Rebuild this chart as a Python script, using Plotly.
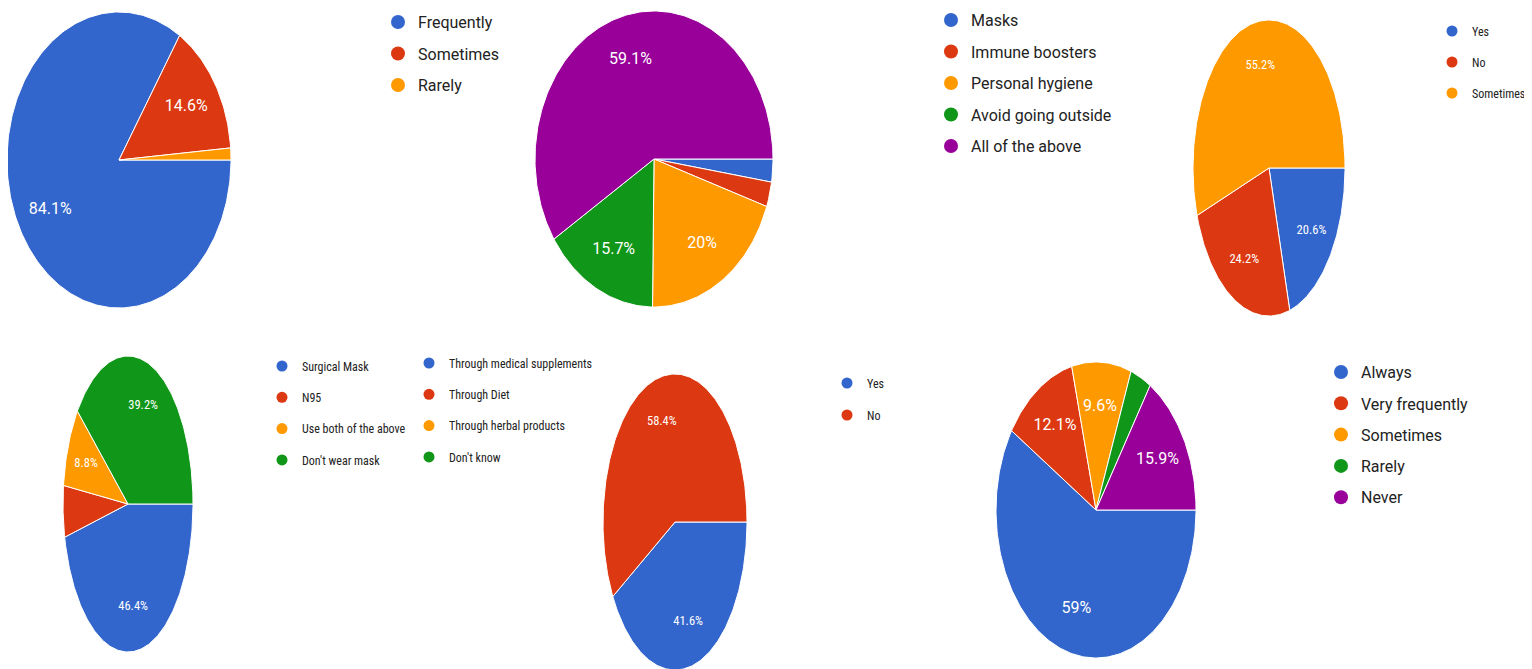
import math
import plotly.graph_objects as go

# ---------------- data ----------------
COLORS = ["#3366CC", "#DC3912", "#FF9900", "#109618", "#990099"]

p1_labels = ["Frequently", "Sometimes", "Rarely"]
p1_values = [84.1, 14.6, 1.3]

p2_labels = ["Masks", "Immune boosters", "Personal hygiene", "Avoid going outside", "All of the above"]
p2_values = [2.5, 2.7, 20.0, 15.7, 59.1]

p3_labels = ["Yes", "No", "Sometimes"]
p3_values = [20.6, 24.2, 55.2]

p4_labels = ["Surgical Mask", "N95", "Use both of the above", "Don't wear mask"]
p4_values = [46.4, 5.6, 8.8, 39.2]

extra_labels = ["Through medical supplements", "Through Diet", "Through herbal products", "Don't know"]

p5_labels = ["Yes", "No"]
p5_values = [41.6, 58.4]

p6_labels = ["Always", "Very frequently", "Sometimes", "Rarely", "Never"]
p6_values = [59.0, 12.1, 9.6, 3.4, 15.9]

# ---------------- layout helpers ----------------
SCREEN_W, SCREEN_H = 1532, 669
OFF = 8  # default page body margin
W, H = SCREEN_W - OFF, SCREEN_H - OFF
BIG = "Roboto, Arial, sans-serif"
NARROW = "Liberation Sans Narrow, Roboto Condensed, Roboto, sans-serif"

# positions below are in screen pixels of the target image
pies = [
    dict(values=p1_values, labels=p1_labels, cx=119, cy=160, rx=112, ry=148, fs=16, fam=BIG),
    dict(values=p2_values, labels=p2_labels, cx=654, cy=159, rx=119, ry=148, fs=16, fam=BIG),
    dict(values=p3_values, labels=p3_labels, cx=1269, cy=168, rx=76, ry=148, fs=12.5, fam=NARROW),
    dict(values=p4_values, labels=p4_labels, cx=128, cy=504, rx=65, ry=148, fs=12.5, fam=NARROW),
    dict(values=p5_values, labels=p5_labels, cx=675, cy=522, rx=72, ry=148, fs=12.5, fam=NARROW),
    dict(values=p6_values, labels=p6_labels, cx=1096, cy=510, rx=100, ry=148, fs=16, fam=BIG),
]

legends = [
    dict(labels=p1_labels, tx=417, y1=22, sp=31.5, fs=16, fam=BIG, ms=14),
    dict(labels=p2_labels, tx=970, y1=20, sp=31.5, fs=16, fam=BIG, ms=14),
    dict(labels=p3_labels, tx=1471, y1=31, sp=31, fs=12, fam=NARROW, ms=11),
    dict(labels=p4_labels, tx=301, y1=366, sp=31.3, fs=12, fam=NARROW, ms=11),
    dict(labels=extra_labels, tx=448, y1=363, sp=31.3, fs=12, fam=NARROW, ms=11),
    dict(labels=p5_labels, tx=866, y1=383, sp=32, fs=12, fam=NARROW, ms=11),
    dict(labels=p6_labels, tx=1360, y1=372, sp=31.3, fs=16, fam=BIG, ms=14),
]

fig = go.Figure()
layout = dict(
    width=W, height=H, margin=dict(l=0, r=0, t=0, b=0, autoexpand=False),
    paper_bgcolor="white", plot_bgcolor="white", hovermode="closest",
)

LABEL_R = 0.7

for i, p in enumerate(pies, 1):
    sfx = "" if i == 1 else str(i)
    xa, ya = "x" + sfx, "y" + sfx
    cx, cy, rx, ry = p["cx"] - OFF, p["cy"] - OFF, p["rx"], p["ry"]
    xl, xr = max(cx - rx, 0), min(cx + rx, W)
    yt, yb = max(cy - ry, 0), min(cy + ry, H)
    layout["xaxis" + sfx] = dict(domain=[xl / W, xr / W], range=[(xl - cx) / rx, (xr - cx) / rx],
                                 visible=False, fixedrange=True, anchor=ya)
    layout["yaxis" + sfx] = dict(domain=[1 - yb / H, 1 - yt / H], range=[-(yb - cy) / ry, (cy - yt) / ry],
                                 visible=False, fixedrange=True, anchor=xa)
    total = sum(p["values"])
    start = 0.0
    tx, ty, tt = [], [], []
    for k, (lab, v) in enumerate(zip(p["labels"], p["values"])):
        frac = v / total
        a0, a1 = start * 2 * math.pi, (start + frac) * 2 * math.pi
        n = max(3, int(frac * 360) + 2)
        ts = [a0 + (a1 - a0) * j / (n - 1) for j in range(n)]
        xs = [0] + [math.cos(t) for t in ts] + [0]
        ys = [0] + [-math.sin(t) for t in ts] + [0]
        fig.add_trace(go.Scatter(
            x=xs, y=ys, xaxis=xa, yaxis=ya, mode="lines", fill="toself",
            fillcolor=COLORS[k], line=dict(color="white", width=1),
            showlegend=False, name=lab, hoveron="fills",
            hoverinfo="name",
        ))
        if v >= 6:
            am = (a0 + a1) / 2
            tx.append(LABEL_R * math.cos(am))
            ty.append(-LABEL_R * math.sin(am))
            tt.append(f"{v:g}%")
        start += frac
    fig.add_trace(go.Scatter(
        x=tx, y=ty, text=tt, mode="text", xaxis=xa, yaxis=ya,
        textfont=dict(color="white", size=p["fs"], family=p["fam"]),
        showlegend=False, hoverinfo="skip", cliponaxis=False,
    ))

for li, lg in enumerate(legends, 1):
    lid = "legend" if li == 1 else f"legend{li}"
    for k, lab in enumerate(lg["labels"]):
        fig.add_trace(go.Scatter(
            x=[None], y=[None], mode="markers", name=lab,
            marker=dict(color=COLORS[k], size=lg["ms"]),
            legend=lid, legendgroup=f"{lid}_{k}", showlegend=True,
        ))
    item_h = max(lg["fs"] * 1.3, 16) + 3
    layout[lid] = dict(
        x=(lg["tx"] - OFF - 39) / W, xanchor="left",
        y=1 - (lg["y1"] - OFF - 5 - item_h / 2) / H, yanchor="top",
        traceorder="grouped", tracegroupgap=lg["sp"] - item_h,
        font=dict(size=lg["fs"], family=lg["fam"], color="#222222"),
        bgcolor="rgba(0,0,0,0)", borderwidth=0,
        itemclick=False, itemdoubleclick=False,
    )

fig.update_layout(**layout)
fig.write_html("out.html")
